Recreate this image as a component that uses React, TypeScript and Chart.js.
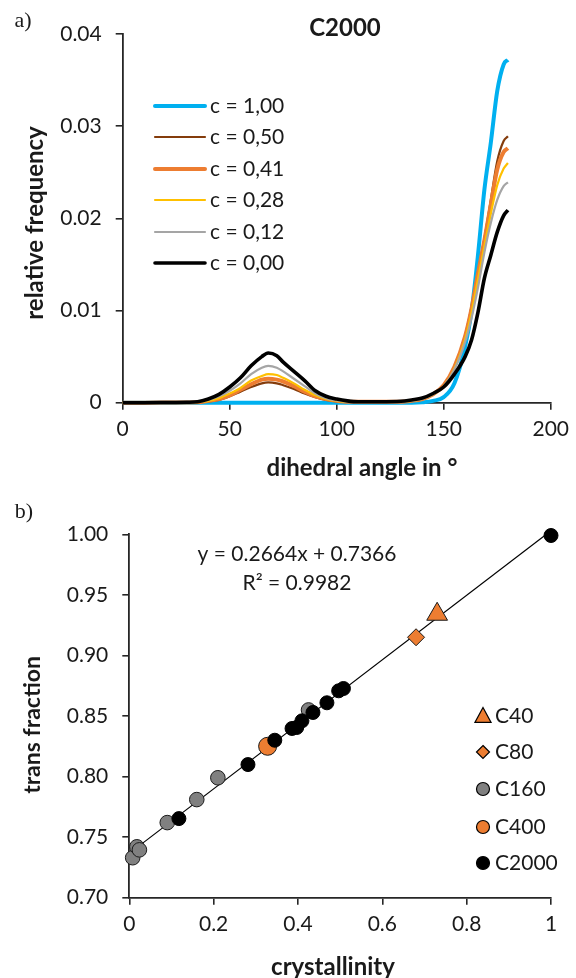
import React, { useEffect, useRef } from 'react';
import { Chart, registerables } from 'chart.js';
Chart.register(...registerables);

const FONT = 'Lato, "Open Sans", "DejaVu Sans", sans-serif';
const SERIF = '"Liberation Serif", "DejaVu Serif", serif';
const AXIS_COLOR = '#262626';
const TEXT_COLOR = '#1a1a1a';

// ---------- Panel a) : dihedral angle distributions ----------
const angles = [0, 10, 20, 30, 35, 40, 45, 50, 55, 60, 65, 68, 72, 75, 80, 85, 90, 95, 100, 105, 110, 120, 130, 135, 140, 145, 150, 155, 160, 163, 166, 169, 172, 175, 178, 180];

const freqC100 = [0, 0, 0, 0, 0, 0, 0, 0, 0, 0, 0, 0, 0, 0, 0, 0, 0, 0, 0, 0, 0, 0, 0, 0, 0.00005, 0.0002, 0.0006, 0.0021, 0.0061, 0.0099, 0.016, 0.0231, 0.0282, 0.0338, 0.0367, 0.0372];
const freqC050 = [0, 0, 0.00001, 0.00002, 0.00004, 0.00015, 0.0003, 0.0007, 0.0012, 0.0017, 0.0021, 0.0022, 0.0021, 0.0019, 0.0015, 0.001, 0.0006, 0.0003, 0.00015, 0.0001, 0.0001, 0.0001, 0.0001, 0.0002, 0.0004, 0.0009, 0.0019, 0.0039, 0.0073, 0.0104, 0.0142, 0.0178, 0.022, 0.0262, 0.0284, 0.0289];
const freqC041 = [0, 0, 0.00001, 0.00003, 0.00005, 0.0002, 0.0004, 0.0008, 0.0014, 0.002, 0.0025, 0.0026, 0.0025, 0.0023, 0.0018, 0.0012, 0.0007, 0.0004, 0.0002, 0.0001, 0.0001, 0.0001, 0.0001, 0.0002, 0.0004, 0.0009, 0.0019, 0.0039, 0.0072, 0.0102, 0.014, 0.0176, 0.0215, 0.0253, 0.0272, 0.0276];
const freqC028 = [0, 0, 0.00001, 0.00003, 0.00006, 0.0002, 0.0005, 0.001, 0.0016, 0.0024, 0.0029, 0.0031, 0.003, 0.0027, 0.0021, 0.0014, 0.0008, 0.0004, 0.0002, 0.0001, 0.0001, 0.0001, 0.0001, 0.0002, 0.0004, 0.0009, 0.0018, 0.0037, 0.0069, 0.0098, 0.0134, 0.017, 0.0205, 0.0236, 0.0254, 0.026];
const freqC012 = [0, 0, 0.00002, 0.00004, 0.00008, 0.0003, 0.0007, 0.0013, 0.0021, 0.0031, 0.0038, 0.004, 0.0038, 0.0034, 0.0026, 0.0018, 0.001, 0.0005, 0.00025, 0.00012, 0.0001, 0.0001, 0.00012, 0.0002, 0.0004, 0.0009, 0.0018, 0.0036, 0.0066, 0.0092, 0.0125, 0.0163, 0.0195, 0.022, 0.0235, 0.0239];
const freqC000 = [0, 0, 0.00002, 0.00005, 0.0001, 0.0004, 0.0009, 0.0017, 0.0027, 0.004, 0.005, 0.0054, 0.0051, 0.0044, 0.0034, 0.0024, 0.0013, 0.0007, 0.0004, 0.0002, 0.0001, 0.0001, 0.00015, 0.0003, 0.0005, 0.001, 0.0017, 0.0031, 0.005, 0.0068, 0.0098, 0.0135, 0.016, 0.0185, 0.0203, 0.0209];

const topLabels = ['c = 1,00', 'c = 0,50', 'c = 0,41', 'c = 0,28', 'c = 0,12', 'c = 0,00'];
const topValues = [freqC100, freqC050, freqC041, freqC028, freqC012, freqC000];
const topColors = ['#00B0F0', '#843C0C', '#ED7D31', '#FFC000', '#A5A5A5', '#000000'];
const topWidths = [4, 2.2, 4, 2.2, 2.2, 3.6];

const topXTicks = ['0', '50', '100', '150', '200'];
const topYTicks = ['0', '0.01', '0.02', '0.03', '0.04'];

// ---------- Panel b) : trans fraction vs crystallinity ----------
const c40X = [0.73];
const c40Y = [0.934];
const c80X = [0.68];
const c80Y = [0.915];
const c160X = [0.008, 0.018, 0.024, 0.09, 0.16, 0.21, 0.425];
const c160Y = [0.733, 0.742, 0.7395, 0.762, 0.781, 0.799, 0.855];
const c400X = [0.328];
const c400Y = [0.825];
const c2000X = [1.0, 0.5078, 0.4965, 0.4686, 0.4355, 0.4094, 0.397, 0.3859, 0.345, 0.2814, 0.1176];
const c2000Y = [0.999, 0.8727, 0.8708, 0.8609, 0.8529, 0.846, 0.8405, 0.8397, 0.83, 0.8099, 0.7653];
const fitX = [0, 1];
const fitY = [0.7366, 1.003];

const botXTicks = ['0', '0.2', '0.4', '0.6', '0.8', '1'];
const botYTicks = ['0.70', '0.75', '0.80', '0.85', '0.90', '0.95', '1.00'];
const equationText = 'y = 0.2664x + 0.7366';
const r2Text = 'R² = 0.9982';

type TextItem = { text: string; x: number; y: number; font: string; align?: CanvasTextAlign; rotate?: boolean };

function drawTexts(ctx: CanvasRenderingContext2D, items: TextItem[]) {
  for (const t of items) {
    ctx.save();
    ctx.font = t.font;
    ctx.fillStyle = TEXT_COLOR;
    ctx.textAlign = t.align || 'center';
    ctx.textBaseline = 'middle';
    ctx.translate(t.x, t.y);
    if (t.rotate) ctx.rotate(-Math.PI / 2);
    ctx.fillText(t.text, 0, 0);
    ctx.restore();
  }
}

function drawMarker(ctx: CanvasRenderingContext2D, style: string, x: number, y: number, r: number, fill: string) {
  ctx.save();
  ctx.beginPath();
  if (style === 'triangle') {
    ctx.moveTo(x, y - r);
    ctx.lineTo(x + r * 0.95, y + r * 0.75);
    ctx.lineTo(x - r * 0.95, y + r * 0.75);
    ctx.closePath();
  } else if (style === 'diamond') {
    ctx.moveTo(x, y - r);
    ctx.lineTo(x + r, y);
    ctx.lineTo(x, y + r);
    ctx.lineTo(x - r, y);
    ctx.closePath();
  } else {
    ctx.arc(x, y, r, 0, Math.PI * 2);
  }
  ctx.fillStyle = fill;
  ctx.fill();
  ctx.lineWidth = 1.2;
  ctx.strokeStyle = '#000';
  ctx.stroke();
  ctx.restore();
}

const tickFont = { family: FONT, size: 21 };

function axisOpts(min: number, max: number, step: number, labels: string[], fit: (s: any) => void, pad: number) {
  return {
    type: 'linear' as const,
    min,
    max,
    afterFit: fit,
    ticks: {
      stepSize: step,
      font: tickFont,
      color: TEXT_COLOR,
      padding: pad,
      callback: (_v: any, i: number) => labels[i],
    },
    grid: { drawOnChartArea: false, drawTicks: true, tickLength: 7, color: AXIS_COLOR, lineWidth: 1.6 },
    border: { color: AXIS_COLOR, width: 1.8 },
  };
}

function TopChart() {
  const ref = useRef<HTMLCanvasElement>(null);
  useEffect(() => {
    const canvas = ref.current!;
    const legendPlugin = {
      id: 'topDecor',
      afterDraw(chart: any) {
        const ctx = chart.ctx as CanvasRenderingContext2D;
        drawTexts(ctx, [
          { text: 'a)', x: 23, y: 21, font: `22px ${SERIF}` },
          { text: 'C2000', x: 345, y: 28, font: `bold 24px ${FONT}` },
          { text: 'relative frequency', x: 35, y: 223, font: `bold 24px ${FONT}`, rotate: true },
          { text: 'dihedral angle in °', x: 362, y: 468, font: `bold 24px ${FONT}` },
        ]);
        const rows = [106, 137, 169, 200, 232, 263];
        topLabels.forEach((lab, i) => {
          ctx.save();
          ctx.strokeStyle = topColors[i];
          ctx.lineWidth = topWidths[i];
          ctx.lineCap = 'round';
          ctx.beginPath();
          ctx.moveTo(155, rows[i]);
          ctx.lineTo(205, rows[i]);
          ctx.stroke();
          ctx.restore();
          drawTexts(ctx, [{ text: lab, x: 210, y: rows[i], font: `21px ${FONT}`, align: 'left' }]);
        });
      },
    };
    const chart = new Chart(canvas, {
      type: 'line',
      data: {
        datasets: topLabels.map((lab, i) => ({
          label: lab,
          data: angles.map((a, j) => ({ x: a, y: topValues[i][j] })),
          borderColor: topColors[i],
          backgroundColor: topColors[i],
          borderWidth: topWidths[i],
          pointRadius: 0,
          cubicInterpolationMode: 'monotone' as const,
          fill: false,
          order: topLabels.length - 1 - i,
          clip: false as any,
        })),
      },
      options: {
        responsive: false,
        animation: false,
        layout: { padding: { left: 0, right: 19, top: 34, bottom: 0 } },
        plugins: { legend: { display: false }, tooltip: { enabled: false }, title: { display: false } },
        scales: {
          x: axisOpts(0, 200, 50, topXTicks, (s: any) => { s.height = 77.3; }, 7),
          y: axisOpts(0, 0.04, 0.01, topYTicks, (s: any) => { s.width = 122.7; }, 14),
        },
      },
      plugins: [legendPlugin],
    });
    return () => chart.destroy();
  }, []);
  return <canvas ref={ref} width={576} height={480} style={{ position: 'absolute', left: 0, top: 0, width: 576, height: 480 }} />;
}

function BottomChart() {
  const ref = useRef<HTMLCanvasElement>(null);
  useEffect(() => {
    const canvas = ref.current!;
    const legendItems = [
      { label: 'C40', style: 'triangle', fill: '#ED7D31', r: 8.5 },
      { label: 'C80', style: 'diamond', fill: '#ED7D31', r: 6.5 },
      { label: 'C160', style: 'circle', fill: '#808080', r: 6.5 },
      { label: 'C400', style: 'circle', fill: '#ED7D31', r: 6.5 },
      { label: 'C2000', style: 'circle', fill: '#000000', r: 6.5 },
    ];
    const decor = {
      id: 'botDecor',
      afterDraw(chart: any) {
        const ctx = chart.ctx as CanvasRenderingContext2D;
        drawTexts(ctx, [
          { text: 'b)', x: 24, y: 32, font: `22px ${SERIF}` },
          { text: equationText, x: 297, y: 74, font: `21px ${FONT}` },
          { text: r2Text, x: 297, y: 103, font: `21px ${FONT}` },
          { text: 'trans fraction', x: 33, y: 245, font: `bold 23px ${FONT}`, rotate: true },
          { text: 'crystallinity', x: 333, y: 487, font: `bold 24px ${FONT}` },
        ]);
        const rows = [236, 272, 309, 347, 383];
        legendItems.forEach((it, i) => {
          drawMarker(ctx, it.style, 483, rows[i], it.r, it.fill);
          drawTexts(ctx, [{ text: it.label, x: 495, y: rows[i], font: `21px ${FONT}`, align: 'left' }]);
        });
      },
    };
    const pts = (xs: number[], ys: number[]) => xs.map((x, i) => ({ x, y: ys[i] }));
    const chart = new Chart(canvas, {
      type: 'scatter',
      data: {
        datasets: [
          { label: 'C2000', data: pts(c2000X, c2000Y), pointStyle: 'circle', pointRadius: 7, backgroundColor: '#000000', borderColor: '#000000', borderWidth: 1, order: 0, clip: false as any },
          { label: 'C400', data: pts(c400X, c400Y), pointStyle: 'circle', pointRadius: 9, backgroundColor: '#ED7D31', borderColor: '#1a1a1a', borderWidth: 1, order: 1, clip: false as any },
          { label: 'C160', data: pts(c160X, c160Y), pointStyle: 'circle', pointRadius: 7.3, backgroundColor: '#808080', borderColor: '#1a1a1a', borderWidth: 1, order: 2, clip: false as any },
          { label: 'C80', data: pts(c80X, c80Y), pointStyle: 'rectRot', pointRadius: 8.5, backgroundColor: '#ED7D31', borderColor: '#1a1a1a', borderWidth: 1, order: 3, clip: false as any },
          { label: 'C40', data: pts(c40X, c40Y), pointStyle: 'triangle', pointRadius: 12, backgroundColor: '#ED7D31', borderColor: '#1a1a1a', borderWidth: 1, order: 4, clip: false as any },
          { label: 'fit', type: 'line' as const, data: pts(fitX, fitY), showLine: true, pointRadius: 0, borderColor: '#000000', borderWidth: 1.2, order: 5, clip: false as any } as any,
        ],
      },
      options: {
        responsive: false,
        animation: false,
        layout: { padding: { left: 0, right: 25, top: 54.3, bottom: 0 } },
        plugins: { legend: { display: false }, tooltip: { enabled: false }, title: { display: false } },
        scales: {
          x: axisOpts(0, 1, 0.2, botXTicks, (s: any) => { s.height = 80.3; }, 7),
          y: axisOpts(0.7, 1.0, 0.05, botYTicks, (s: any) => { s.width = 129.3; }, 14),
        },
      },
      plugins: [decor],
    });
    return () => chart.destroy();
  }, []);
  return <canvas ref={ref} width={576} height={498} style={{ position: 'absolute', left: 0, top: 480, width: 576, height: 498 }} />;
}

export default function App() {
  return (
    <div style={{ position: 'absolute', left: 0, top: 0, width: 576, height: 978, background: '#fff', overflow: 'hidden' }}>
      <TopChart />
      <BottomChart />
    </div>
  );
}
